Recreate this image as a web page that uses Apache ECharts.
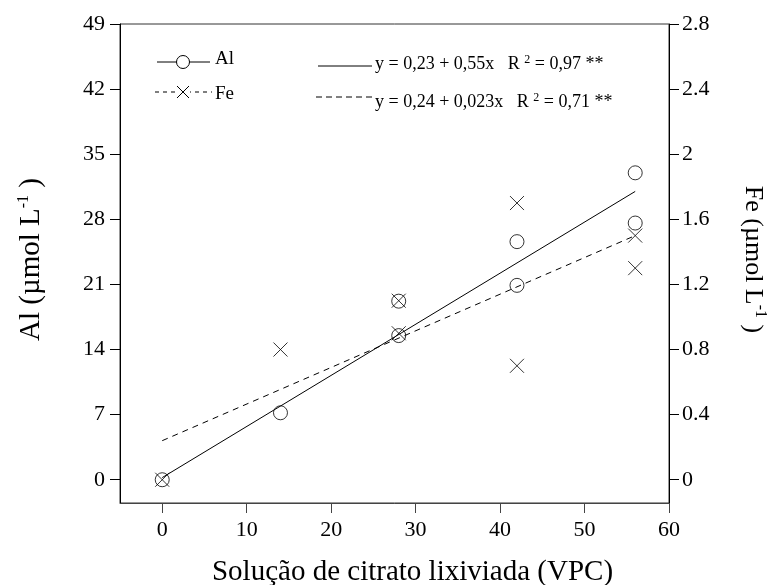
<!DOCTYPE html>
<html>
<head>
<meta charset="utf-8">
<script src="https://cdn.jsdelivr.net/npm/echarts@6/dist/echarts.min.js"></script>
<style>
  html, body { margin: 0; padding: 0; background: #fff; }
  #main { width: 774px; height: 585px; }
</style>
</head>
<body>
<div id="main"></div>
<script>
// data
const alPoints = [[0, 0], [14, 7.2], [28, 15.5], [28, 19.2], [42, 20.9], [42, 25.6], [56, 27.6], [56, 33.0]];
const fePoints = [[0, 0], [14, 0.8], [28, 0.9], [28, 1.1], [42, 0.7], [42, 1.7], [56, 1.3], [56, 1.5]];
const alFit = [[0, 0.23], [56, 31.0]];
const feFit = [[0, 0.24], [56, 1.50]];
const xTicks = [0, 10, 20, 30, 40, 50, 60];
const alTicks = [0, 7, 14, 21, 28, 35, 42, 49];
const feTicks = [0, 0.4, 0.8, 1.2, 1.6, 2, 2.4, 2.8];

const FONT = '"Liberation Serif", "DejaVu Serif", serif';
const crossPath = 'path://M0,0L10,10M10,0L0,10';

document.addEventListener('DOMContentLoaded', function() {
    var chartDom = document.getElementById('main');
    var myChart = echarts.init(chartDom);
    var option;

    const blackLine = { color: '#000', width: 1 };
    const supStyle = { fontFamily: FONT, fontSize: 16, color: '#000', verticalAlign: 'top', padding: [0, 0, 14, 0] };

    option = {
        animation: false,
        grid: {
          left: 120,
          right: 105,
          top: 24,
          bottom: 82,
          containLabel: false,
          outerBoundsMode: 'none',
          show: true,
          borderColor: '#333',
          borderWidth: 1
        },
        xAxis: {
          type: 'value',
          min: -5,
          max: 60,
          axisLine: { onZero: false, lineStyle: { color: '#444' } },
          axisTick: { length: 10, lineStyle: { color: '#444' }, customValues: xTicks },
          axisLabel: { fontFamily: FONT, fontSize: 22, color: '#000', margin: 16, customValues: xTicks },
          splitLine: { show: false },
          name: 'Solução de citrato lixiviada (VPC)',
          nameLocation: 'middle',
          nameGap: 55,
          nameTextStyle: { fontFamily: FONT, fontSize: 29, color: '#000', padding: [0, 0, 0, 36] }
        },
        yAxis: [
          {
            type: 'value',
            position: 'left',
            min: -2.5,
            max: 49,
            axisLine: { show: true, onZero: false, lineStyle: blackLine },
            axisTick: { show: true, length: 10, lineStyle: blackLine, customValues: alTicks },
            axisLabel: { fontFamily: FONT, fontSize: 22, color: '#000', margin: 15, customValues: alTicks },
            splitLine: { show: false },
            name: 'Al (µmol L{sup|-1} )',
            nameLocation: 'middle',
            nameRotate: 90,
            nameGap: 74,
            nameTextStyle: { fontFamily: FONT, fontSize: 29, color: '#000', padding: [0, 0, 0, 8], rich: { sup: supStyle } }
          },
          {
            type: 'value',
            position: 'right',
            min: -0.142857,
            max: 2.8,
            axisLine: { show: true, onZero: false, lineStyle: blackLine },
            axisTick: { show: true, length: 10, lineStyle: blackLine, customValues: feTicks },
            axisLabel: { fontFamily: FONT, fontSize: 22, color: '#000', margin: 13, customValues: feTicks },
            splitLine: { show: false },
            name: 'Fe (µmol L{sup|-1} )',
            nameLocation: 'middle',
            nameRotate: -90,
            nameGap: 69,
            nameTextStyle: { fontFamily: FONT, fontSize: 26, color: '#000', padding: [0, 8, 0, 0], rich: { sup: supStyle } }
          }
        ],
        series: [
          {
            name: 'Al ajuste',
            type: 'line',
            yAxisIndex: 0,
            data: alFit,
            showSymbol: false,
            lineStyle: { color: '#000', width: 1 }
          },
          {
            name: 'Fe ajuste',
            type: 'line',
            yAxisIndex: 1,
            data: feFit,
            showSymbol: false,
            lineStyle: { color: '#000', width: 1, type: [6, 5] }
          },
          {
            name: 'Al',
            type: 'scatter',
            yAxisIndex: 0,
            data: alPoints,
            symbol: 'circle',
            symbolSize: 14,
            itemStyle: { color: 'transparent', borderColor: '#000', borderWidth: 1 }
          },
          {
            name: 'Fe',
            type: 'scatter',
            yAxisIndex: 1,
            data: fePoints,
            symbol: crossPath,
            symbolSize: 14,
            itemStyle: { color: 'transparent', borderColor: '#000', borderWidth: 1 }
          }
        ],
        graphic: [
          // legend
          { type: 'line', shape: { x1: 157, y1: 62, x2: 210, y2: 62 }, style: { stroke: '#000', lineWidth: 1 } },
          { type: 'circle', shape: { cx: 183, cy: 62, r: 6.5 }, style: { fill: '#fff', stroke: '#000', lineWidth: 1 } },
          { type: 'text', x: 215, y: 59, style: { text: 'Al', font: '19px ' + FONT, fill: '#000', verticalAlign: 'middle' } },
          { type: 'line', shape: { x1: 155, y1: 92, x2: 212, y2: 92 }, style: { stroke: '#000', lineWidth: 1, lineDash: [4, 4] } },
          { type: 'rect', shape: { x: 176, y: 85, width: 14, height: 14 }, style: { fill: '#fff' } },
          { type: 'line', shape: { x1: 177, y1: 86, x2: 189, y2: 98 }, style: { stroke: '#000', lineWidth: 1 } },
          { type: 'line', shape: { x1: 189, y1: 86, x2: 177, y2: 98 }, style: { stroke: '#000', lineWidth: 1 } },
          { type: 'text', x: 215, y: 94, style: { text: 'Fe', font: '19px ' + FONT, fill: '#000', verticalAlign: 'middle' } },
          // regression equations
          { type: 'line', shape: { x1: 318, y1: 66, x2: 372, y2: 66 }, style: { stroke: '#000', lineWidth: 1 } },
          {
            type: 'text', x: 375, y: 64,
            style: {
              text: 'y = 0,23 + 0,55x   R {sup|2} = 0,97 **',
              font: '18px ' + FONT, fill: '#000', verticalAlign: 'middle',
              rich: { sup: { font: '12px ' + FONT, fill: '#000', verticalAlign: 'top', padding: [0, 0, 9, 0] } }
            }
          },
          { type: 'line', shape: { x1: 316, y1: 97, x2: 372, y2: 97 }, style: { stroke: '#000', lineWidth: 1, lineDash: [6, 4] } },
          {
            type: 'text', x: 375, y: 102,
            style: {
              text: 'y = 0,24 + 0,023x   R {sup|2} = 0,71 **',
              font: '18px ' + FONT, fill: '#000', verticalAlign: 'middle',
              rich: { sup: { font: '12px ' + FONT, fill: '#000', verticalAlign: 'top', padding: [0, 0, 9, 0] } }
            }
          }
        ]
      };

    option && myChart.setOption(option);
});
</script>
</body>
</html>
